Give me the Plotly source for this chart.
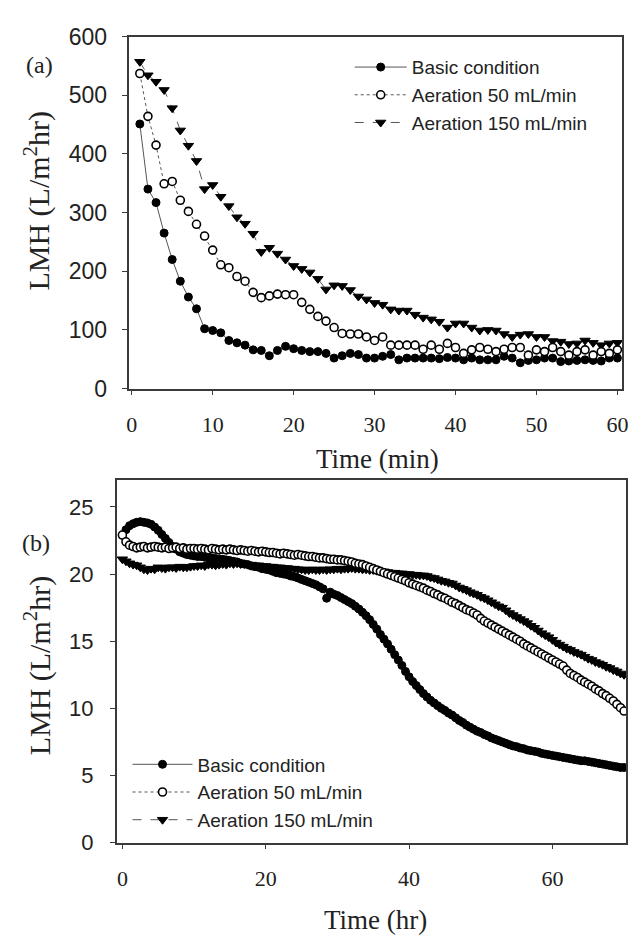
import plotly.graph_objects as go

# ---------------- Panel (a): time in minutes ----------------
t_min = list(range(1, 61))
basic_a = [451, 340, 317, 265, 220, 183, 156, 136, 102, 99,
           95, 82, 78, 74, 66, 65, 56, 65, 72, 68,
           65, 63, 63, 60, 52, 56, 60, 58, 52, 52,
           55, 58, 49, 52, 52, 52, 52, 51, 53, 52,
           49, 52, 49, 49, 49, 55, 52, 44, 48, 49,
           52, 52, 46, 47, 48, 49, 48, 47, 52, 52]
aer50_a = [537, 464, 415, 349, 353, 321, 302, 280, 260, 236,
           211, 206, 191, 183, 164, 155, 158, 161, 160, 160,
           147, 135, 123, 115, 104, 94, 93, 93, 88, 82,
           88, 74, 74, 74, 74, 67, 74, 67, 77, 70,
           60, 66, 70, 67, 63, 67, 70, 70, 57, 66,
           63, 70, 63, 57, 63, 66, 57, 63, 60, 66]
aer150_a = [557, 534, 523, 509, 478, 440, 414, 388, 340, 347,
            327, 311, 292, 281, 264, 233, 240, 230, 220, 209,
            204, 198, 187, 169, 176, 175, 168, 157, 152, 146,
            143, 135, 133, 133, 126, 121, 118, 114, 104, 111,
            111, 104, 99, 100, 99, 93, 88, 92, 93, 88,
            88, 81, 80, 76, 77, 82, 78, 74, 77, 78]

# ---------------- Panel (b): time in hours (0 .. 70, every 0.5 hr) ----------------
t_hr = [i * 0.5 for i in range(141)]
basic_b = [22.9, 23.3, 23.6, 23.75, 23.85, 23.9, 23.85, 23.8, 23.7, 23.5,
           23.25, 22.95, 22.65, 22.35, 22.05, 21.85, 21.65, 21.55, 21.45, 21.4,
           21.35, 21.3, 21.3, 21.25, 21.2, 21.2, 21.15, 21.1, 21.1, 21.05,
           21.0, 20.95, 20.9, 20.8, 20.75, 20.7, 20.6, 20.55, 20.5, 20.4,
           20.35, 20.3, 20.2, 20.1, 20.05, 20.0, 19.95, 19.85, 19.8, 19.7,
           19.6, 19.5, 19.4, 19.3, 19.2, 19.05, 18.9, 18.2, 18.65, 18.5,
           18.4, 18.25, 18.1, 17.95, 17.8, 17.6, 17.4, 17.15, 16.9, 16.6,
           16.25, 15.9, 15.5, 15.15, 14.8, 14.4, 14.0, 13.6, 13.2, 12.75,
           12.35, 12.0, 11.7, 11.4, 11.1, 10.85, 10.6, 10.4, 10.2, 10.0,
           9.85, 9.65, 9.5, 9.3, 9.1, 8.95, 8.75, 8.6, 8.45, 8.3,
           8.2, 8.05, 7.95, 7.8, 7.7, 7.6, 7.5, 7.4, 7.3, 7.2,
           7.15, 7.05, 7.0, 6.9, 6.85, 6.8, 6.75, 6.65, 6.6, 6.55,
           6.5, 6.45, 6.4, 6.35, 6.3, 6.25, 6.2, 6.15, 6.1, 6.1,
           6.05, 6.0, 5.95, 5.9, 5.85, 5.8, 5.75, 5.7, 5.65, 5.6,
           5.6]
aer50_b = [22.9, 22.4, 22.15, 22.05, 21.95, 22.0, 22.05, 21.95, 22.0, 22.05,
           22.0, 21.95, 22.0, 21.9, 21.95, 22.0, 21.9, 21.95, 21.85, 21.9,
           21.9, 21.85, 21.9, 21.85, 21.8, 21.9, 21.85, 21.8, 21.85, 21.8,
           21.85, 21.8, 21.75, 21.8, 21.75, 21.7, 21.75, 21.7, 21.65, 21.7,
           21.65, 21.6, 21.6, 21.55, 21.5, 21.55, 21.5, 21.45, 21.4, 21.45,
           21.4, 21.35, 21.3, 21.3, 21.25, 21.2, 21.2, 21.15, 21.1, 21.1,
           21.05, 21.05, 21.0, 20.95, 20.9, 20.8, 20.75, 20.7, 20.6, 20.5,
           20.4, 20.3, 20.2, 20.1, 20.0, 19.9, 19.8, 19.7, 19.6, 19.5,
           19.35, 19.25, 19.15, 19.05, 18.95, 18.8, 18.7, 18.55, 18.45, 18.3,
           18.2, 18.05, 17.9, 17.8, 17.65, 17.5, 17.35, 17.25, 17.1, 16.95,
           16.7, 16.5, 16.35, 16.2, 16.05, 15.9, 15.75, 15.6, 15.45, 15.3,
           15.15, 15.0, 14.8, 14.65, 14.5, 14.35, 14.2, 14.05, 13.9, 13.75,
           13.6, 13.45, 13.3, 13.15, 12.85, 12.6, 12.45, 12.3, 12.1, 11.95,
           11.8, 11.65, 11.45, 11.3, 11.1, 10.95, 10.75, 10.55, 10.3, 10.05,
           9.8]
aer150_b = [21.1, 20.95, 20.8, 20.7, 20.65, 20.5, 20.35, 20.3, 20.4, 20.35,
            20.5, 20.45, 20.4, 20.5, 20.5, 20.45, 20.55, 20.5, 20.5, 20.55,
            20.6, 20.6, 20.65, 20.6, 20.7, 20.7, 20.65, 20.7, 20.75, 20.7,
            20.8, 20.75, 20.8, 20.75, 20.75, 20.7, 20.7, 20.65, 20.65, 20.6,
            20.6, 20.55, 20.55, 20.5, 20.5, 20.45, 20.45, 20.4, 20.4, 20.35,
            20.35, 20.3, 20.3, 20.35, 20.3, 20.3, 20.35, 20.3, 20.35, 20.35,
            20.4, 20.35, 20.4, 20.4, 20.45, 20.4, 20.4, 20.35, 20.35, 20.3,
            20.3, 20.25, 20.2, 20.2, 20.15, 20.1, 20.1, 20.05, 20.05, 20.0,
            20.0, 19.95, 19.95, 19.9, 19.9, 19.85, 19.75, 19.7, 19.6, 19.5,
            19.45, 19.35, 19.3, 19.15, 19.0, 18.9, 18.8, 18.65, 18.55, 18.45,
            18.3, 18.2, 18.05, 17.9, 17.75, 17.6, 17.5, 17.3, 17.1, 16.95,
            16.8, 16.65, 16.5, 16.35, 16.15, 16.0, 15.8, 15.6, 15.45, 15.3,
            15.1, 14.9, 14.75, 14.6, 14.45, 14.35, 14.2, 14.1, 14.0, 13.85,
            13.7, 13.6, 13.45, 13.35, 13.25, 13.1, 13.0, 12.85, 12.75, 12.6,
            12.5]

names = ["Basic condition", "Aeration 50 mL/min", "Aeration 150 mL/min"]

W, H = 641, 943
SERIF = "Liberation Serif, Times New Roman, serif"
SANS = "Liberation Sans, Arial, sans-serif"
AX = "#3a3a3a"
LN = "#555555"


def px_x(p):
    return p / W


def px_y(p):
    return 1 - p / H


fig = go.Figure()

styles = [
    dict(symbol="circle", color="black", line=dict(color="black", width=1), dash="solid"),
    dict(symbol="circle", color="white", line=dict(color="black", width=1.6), dash="dot"),
    dict(symbol="triangle-down", color="black", line=dict(color="black", width=1), dash="dash"),
]
sizes_a = [8, 8, 9]
sizes_b = [8, 8, 9]
order = [0, 2, 1]  # draw open circles last (on top)

data_a = [basic_a, aer50_a, aer150_a]
data_b = [basic_b, aer50_b, aer150_b]

for i in order:
    st = styles[i]
    fig.add_trace(go.Scatter(
        x=t_min, y=data_a[i], mode="lines+markers", name=names[i],
        line=dict(color=LN, width=1, dash=st["dash"]),
        marker=dict(symbol=st["symbol"], color=st["color"], size=sizes_a[i], line=st["line"]),
        xaxis="x", yaxis="y", legend="legend", legendrank=i + 1,
    ))
for i in order:
    st = styles[i]
    fig.add_trace(go.Scatter(
        x=t_hr, y=data_b[i], mode="lines+markers", name=names[i],
        line=dict(color=LN, width=1, dash=st["dash"]),
        marker=dict(symbol=st["symbol"], color=st["color"], size=sizes_b[i], line=st["line"]),
        xaxis="x2", yaxis="y2", legend="legend2", legendrank=i + 1,
    ))

axis_common = dict(showline=True, linecolor=AX, linewidth=1.5, mirror=True,
                   ticks="outside", ticklen=5, tickcolor=AX, tickwidth=1.2,
                   showgrid=False, zeroline=False)

fig.update_layout(
    width=W, height=H, margin=dict(l=0, r=0, t=0, b=0),
    paper_bgcolor="white", plot_bgcolor="white", showlegend=True,
    xaxis=dict(domain=[px_x(120), px_x(620)], range=[-0.4, 60.6], tickmode="array",
               tickvals=[0, 10, 20, 30, 40, 50, 60], anchor="y",
               tickfont=dict(family=SERIF, size=22, color="#222"), ticklabelstandoff=10,
               **axis_common),
    yaxis=dict(domain=[px_y(378), px_y(16)], range=[0, 600], tickmode="array",
               tickvals=[0, 100, 200, 300, 400, 500, 600], anchor="x",
               tickfont=dict(family=SANS, size=23, color="#222"), ticklabelstandoff=10,
               **axis_common),
    xaxis2=dict(domain=[px_x(108), px_x(624)], range=[-0.8, 70.3], tickmode="array",
                tickvals=[0, 20, 40, 60], anchor="y2",
                tickfont=dict(family=SERIF, size=22, color="#222"), ticklabelstandoff=10,
                **axis_common),
    yaxis2=dict(domain=[px_y(845), px_y(472)], range=[0, 27], tickmode="array",
                tickvals=[0, 5, 10, 15, 20, 25], anchor="x2",
                tickfont=dict(family=SANS, size=22, color="#222"), ticklabelstandoff=12,
                **axis_common),
    legend=dict(x=px_x(344), y=px_y(28), xanchor="left", yanchor="top",
                bgcolor="rgba(0,0,0,0)", borderwidth=0, itemwidth=52,
                font=dict(family=SANS, size=19, color="#222"), tracegroupgap=0),
    legend2=dict(x=px_x(119), y=px_y(745), xanchor="left", yanchor="top",
                 bgcolor="rgba(0,0,0,0)", borderwidth=0, itemwidth=60,
                 font=dict(family=SANS, size=19, color="#222"), tracegroupgap=0),
)

ann = [
    dict(text="(a)", x=px_x(30), y=px_y(45), font=dict(family=SERIF, size=24, color="#222")),
    dict(text="(b)", x=px_x(26), y=px_y(537), font=dict(family=SERIF, size=24, color="#222")),
    dict(text="Time (min)", x=px_x(372), y=px_y(450), font=dict(family=SERIF, size=27, color="#222")),
    dict(text="Time (hr)", x=px_x(370), y=px_y(925), font=dict(family=SERIF, size=27, color="#222")),
    dict(text="LMH (L/m<sup>2</sup>hr)", x=px_x(28), y=px_y(185), textangle=-90,
         font=dict(family=SERIF, size=30, color="#222")),
    dict(text="LMH (L/m<sup>2</sup>hr)", x=px_x(28), y=px_y(663), textangle=-90,
         font=dict(family=SERIF, size=30, color="#222")),
]
for a in ann:
    fig.add_annotation(xref="paper", yref="paper", showarrow=False,
                       xanchor="center", yanchor="middle", **a)

fig.write_html("out.html")
